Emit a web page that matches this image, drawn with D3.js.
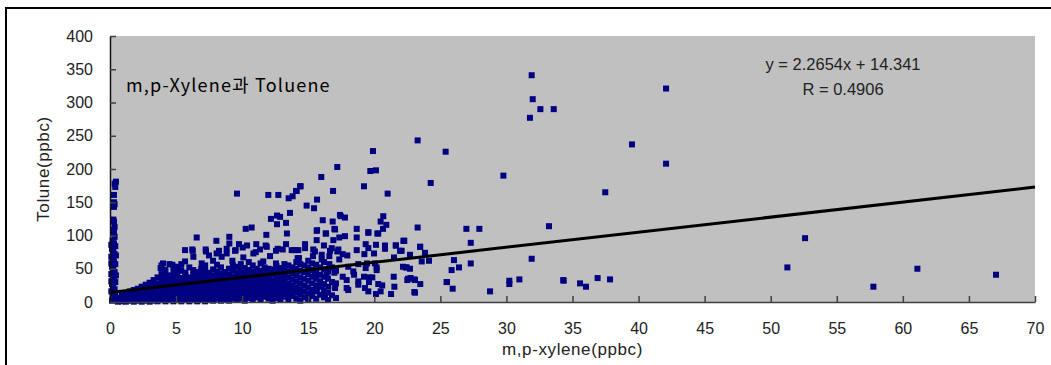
<!DOCTYPE html>
<html>
<head>
<meta charset="utf-8">
<script src="https://cdn.jsdelivr.net/npm/d3@7"></script>
<style>
  body { margin: 0; background: #fff; }
  svg { display: block; }
  .tick text { font-family: "Liberation Sans", Arial, sans-serif; font-size: 16px; fill: #222; }
</style>
</head>
<body>
<svg id="svg" width="1051" height="365"></svg>
<script>
// axis ticks
const xTickValues = [0, 5, 10, 15, 20, 25, 30, 35, 40, 45, 50, 55, 60, 65, 70];
const yTickValues = [0, 50, 100, 150, 200, 250, 300, 350, 400];

// trend line from the chart
const fitSlope = 2.2654;
const fitIntercept = 14.341;
const fitR = 0.4906;

// samples where m,p-xylene is ~0
const nearZeroPts = [
  [0.15,2],[0.3,5],[0.2,9],[0.4,12],[0.1,16],[0.35,19],[0.25,23],[0.15,27],[0.4,30],[0.3,34],
  [0.2,38],[0.1,42],[0.35,45],[0.25,49],[0.15,53],[0.4,57],[0.3,61],[0.2,65],[0.1,68],[0.35,72],
  [0.25,76],[0.15,80],[0.4,84],[0.3,88],[0.2,92],[0.35,98],[0.3,104],[0.25,109],[0.35,113],
  [0.3,121],[0.25,124],[0.3,143],[0.35,147],[0.3,150],[0.3,161],[0.4,173],[0.35,178],[0.45,181],
  [0.45,6],[0.1,31],[0.45,40],[0.1,58],[0.45,70],[0.1,86]
];

// dense cluster, read column by column: [xylene, [toluene values]]
const bandCols = [
  [0.6,[0.5,4]],
  [0.9,[1,6,10]],
  [1.2,[0.5,4,8,13]],
  [1.5,[2,6,11,16]],
  [1.8,[0.5,4,9,13,18]],
  [2.1,[2,7,11,16,20]],
  [2.4,[0.5,5,9,14,19,23]],
  [2.7,[2,7,12,17,21,26]],
  [3.0,[0.5,4,9,14,19,24,29]],
  [3.3,[2,6,11,16,21,26,33]],
  [3.6,[1,5,9,13,18,23,28,37]],
  [3.9,[3,7,12,17,22,27,32,42,55]],
  [4.2,[1,5,10,15,20,25,30,36,48]],
  [4.5,[3,8,13,18,23,28,34,40,57]],
  [4.8,[1,6,11,16,21,26,31,38,45,53]],
  [5.1,[3,8,13,18,23,28,33,42,50]],
  [5.4,[1,5,10,15,20,25,30,36,47,57]],
  [5.7,[3,8,13,18,23,28,34,40,44]],
  [6.0,[1,6,11,16,21,26,31,37,52]],
  [6.3,[3,8,13,18,23,29,35,41,48]],
  [6.6,[1,5,10,15,20,25,31,38,45]],
  [6.9,[3,8,13,18,23,28,34,42,50]],
  [7.2,[1,6,11,16,21,26,32,39,47,55]],
  [7.5,[4,9,14,19,24,30,36,44]],
  [7.8,[2,7,12,17,22,27,33,40,49]],
  [8.1,[5,10,15,20,25,31,38,46,56]],
  [8.4,[2,7,12,17,22,28,35,43,52]],
  [8.7,[4,9,14,19,24,30,37,45]],
  [9.0,[2,7,12,17,22,28,34,41,50]],
  [9.3,[5,10,15,20,25,31,38,47,55]],
  [9.6,[3,8,13,18,23,29,36,44,53]],
  [9.9,[5,10,15,20,26,32,39,48,57]],
  [10.2,[2,8,13,18,24,30,36,43,51]],
  [10.5,[6,11,16,21,27,33,40,48,60]],
  [10.8,[3,9,14,19,25,31,38,46,55]],
  [11.1,[7,12,17,23,29,35,42,50]],
  [11.4,[4,10,15,21,27,33,40,47,58]],
  [11.7,[8,13,19,25,31,37,44,52]],
  [12.0,[5,11,17,23,29,36,43,50]],
  [12.3,[2,9,16,24,32,41,49]],
  [12.6,[6,13,20,28,36,45,54]],
  [12.9,[3,11,18,26,34,42,51]],
  [13.2,[8,15,23,31,39,48,57]],
  [13.5,[4,12,20,28,37,46,55]],
  [13.8,[9,17,25,34,43,52]],
  [14.1,[5,14,22,31,40,50,60]],
  [14.4,[2,11,19,28,37,47,57]],
  [14.7,[16,25,35,45,55]],
  [15.0,[3,13,22,32,42,52,62]],
  [15.3,[9,18,28,38,48,58]],
  [15.6,[5,25,35,45,56]],
  [15.9,[11,31,41,52]],
  [16.2,[7,17,27,38,49,60]],
  [16.5,[3,14,35,46]],
  [16.8,[10,30,52]],
  [17.1,[6,28,47]]
];

// scattered samples
const spreadPts = [
  [6.56,97],[6.26,77],[6.31,68],[5.68,61],[4.01,58],[3.83,51],[4.72,56],[5.1,53],[4.14,43],[5.35,48],[3.96,36],
  [5.68,78],[6.23,79],[7.26,76],[8.07,73],[8.83,80],[9.46,77],[11.03,75],[11.35,79],[12.56,77],[13.07,79],
  [14.25,78],[15.38,79],[16.65,77],[17.28,79],
  [9.61,163],[11.98,161],[12.74,161],[13.52,156],[13.82,159],[14.08,167],[14.38,174],[13.62,134],[12.64,130],
  [12.18,125],[12.87,128],[12.64,117],[13.32,119],[10.27,110],[10.72,112],[13.39,103],[11.83,101],[9.03,98],
  [8.05,92],[9.03,88],[9.76,87],[10.37,85],[11.07,87],[13.32,87],[7.24,79],[8.25,77],[9.51,78],[10.04,82],
  [11.86,83],[12.69,80],[13.75,78],[14.0,78],[8.83,73],[7.49,70],[8.45,68],[10.85,73],[12.11,69],[10.09,67],
  [6.94,58],[7.8,62],[9.26,62],[11.6,61],[12.56,58],[14.2,66],[11.78,85],
  [19.9,227],[17.2,203],[19.7,197],[20.13,198],[15.99,188],[14.43,174],[14.13,167],[19.22,174],[16.88,167],
  [21.01,163],[15.67,154],[14.88,145],[15.44,141],[17.46,129],[17.78,127],[16.1,123],[16.85,121],[20.68,129],
  [20.48,121],[20.91,116],[20.66,110],[18.67,110],[16.98,110],[15.67,108],[16.32,103],[19.55,105],[20.23,103],
  [18.67,97],[22.2,92],[19.35,87],[20.13,86],[20.81,85],[21.62,85],[14.76,87],[14.76,81],[16.19,85],[16.78,81],
  [19.55,81],[20.81,80],[22.07,77],[15.51,76],[17.2,76],[17.61,72],[17.96,70],[18.67,78],[19.25,72],[19.98,73],
  [16.02,71],[16.6,69],[15.36,69],[21.49,67],[17.35,64],[16.02,64],[14.3,66],[19.45,58],[18.79,57],[20.05,58],
  [22.17,53],[16.6,57],[18.03,53],[20.18,48],[18.41,46],[19.35,51],[20.18,52],[21.47,38],[19.85,37],[19.6,37],
  [19.22,38],[18.47,41],[17.61,38],[16.98,44],[16.4,41],[15.51,43],[17.91,33],[18.79,31],[18.79,26],[20.3,27],
  [20.6,25],[19.6,30],[21.52,23],[19.3,21],[17.91,21],[18.03,18],[17.03,21],[16.52,23],[16.02,23],[16.27,12],
  [20.48,16],[20.13,12],[19.55,16],[21.27,12],[15.64,16],[15.64,21],[14.76,7],
  [15.64,107],[16.35,103],[17.03,109],[17.35,97],[16.9,93],[17.78,99],[15.64,93],[17.4,131],
  [19.55,104],[20.3,103],[21.64,85],[22.27,92],[23.46,83],[23.84,74],[23.59,61],[24.14,62],[22.7,71],[22.45,52],
  [22.5,33],[22.75,36],[23.08,33],[23.48,27],[23.08,14],[25.47,30],[25.93,20],[25.85,48],[26.03,63],[26.41,52],
  [27.3,58],[27.3,89],[28.76,16],[30.22,32],[30.22,27],[30.98,34],[31.91,65],[34.3,33],[35.57,28],[36.02,23],
  [36.9,36],[37.84,34],
  [31.91,341],[42.08,321],[31.99,305],[32.57,290],[33.58,290],[31.78,277],[23.28,243],[25.4,226],[39.5,237],
  [42.08,208],[29.77,190],[24.27,179],[37.48,165],[33.22,114],[23.28,112],[26.97,110],[27.95,110],[22.25,92],
  [21.95,77],[23.48,83],[22.37,52],[22.7,50],[22.55,35],[23.03,34],[23.03,15],[25.5,30],[34.33,32],
  [52.6,96],[51.26,52],[61.1,50],[57.77,23],[67.05,41]
];

const points = nearZeroPts
  .concat(bandCols.flatMap(([x, ys]) => ys.map(y => [x, y])))
  .concat(spreadPts);

const svg = d3.select('#svg');
const width = 1051, height = 365;
const plot = {left: 110, right: 1035, top: 36, bottom: 302};

let x = d3.scaleLinear().domain([0, 70]).range([plot.left, plot.right]);
let y = d3.scaleLinear().domain([0, 400]).range([plot.bottom, plot.top]);

svg.append("rect").attr("width", width).attr("height", height).attr("fill", "#fff");

// outer frame (only top and left edges visible)
svg.append("path")
  .attr("d", "M6,365V8H1051")
  .attr("fill", "none")
  .attr("stroke", "#000")
  .attr("stroke-width", 2);

svg.append("rect")
  .attr("x", plot.left).attr("y", plot.top)
  .attr("width", plot.right - plot.left).attr("height", plot.bottom - plot.top)
  .attr("fill", "#c0c0c0");

const ms = 6;
svg.append("g")
  .attr("fill", "#000080")
  .selectAll("rect")
  .data(points)
  .join("rect")
    .attr("x", d => x(d[0]) - ms / 2)
    .attr("y", d => y(d[1]) - ms / 2)
    .attr("width", ms)
    .attr("height", ms);

// trend line
svg.append("line")
  .attr("x1", x(0)).attr("y1", y(fitIntercept))
  .attr("x2", x(70)).attr("y2", y(fitSlope * 70 + fitIntercept))
  .attr("stroke", "#000")
  .attr("stroke-width", 3);

// axes
const xAxis = svg.append("g")
  .attr("transform", `translate(0,${plot.bottom})`)
  .call(d3.axisBottom(x).tickValues(xTickValues).tickSizeInner(-6).tickSizeOuter(0).tickPadding(21));
xAxis.select(".domain").attr("stroke", "#404040").attr("stroke-width", 1.5);
xAxis.selectAll(".tick line").attr("stroke", "#404040").attr("stroke-width", 1.5);

const yAxis = svg.append("g")
  .attr("transform", `translate(${plot.left},0)`)
  .call(d3.axisLeft(y).tickValues(yTickValues).tickSizeInner(-6).tickSizeOuter(0).tickPadding(17));
yAxis.select(".domain").attr("stroke", "#111").attr("stroke-width", 1.5);
yAxis.selectAll(".tick line").attr("stroke", "#404040").attr("stroke-width", 1.5);

// axis titles
svg.append("text")
  .attr("x", (plot.left + plot.right) / 2).attr("y", 355)
  .attr("text-anchor", "middle")
  .attr("font-family", "Liberation Sans, Arial, sans-serif")
  .attr("font-size", 17).attr("letter-spacing", 0.6)
  .attr("fill", "#222")
  .text("m,p-xylene(ppbc)");

svg.append("text")
  .attr("transform", `translate(49,${(plot.top + plot.bottom) / 2}) rotate(-90)`)
  .attr("text-anchor", "middle")
  .attr("font-family", "Liberation Sans, Arial, sans-serif")
  .attr("font-size", 17).attr("letter-spacing", 0.6)
  .attr("fill", "#222")
  .text("Tolune(ppbc)");

// chart note and equation
svg.append("text")
  .attr("x", 126).attr("y", 92)
  .attr("font-family", "'Noto Sans CJK KR', sans-serif")
  .attr("font-size", 18).attr("letter-spacing", 1.2)
  .attr("fill", "#000")
  .text("m,p-Xylene과 Toluene");

const eq = svg.append("g")
  .attr("font-family", "Liberation Sans, Arial, sans-serif")
  .attr("font-size", 16.5)
  .attr("fill", "#222")
  .attr("text-anchor", "middle");
eq.append("text").attr("x", 843).attr("y", 70)
  .text(`y = ${fitSlope}x + ${fitIntercept}`);
eq.append("text").attr("x", 843).attr("y", 95)
  .text(`R = ${fitR}`);
</script>
</body>
</html>
